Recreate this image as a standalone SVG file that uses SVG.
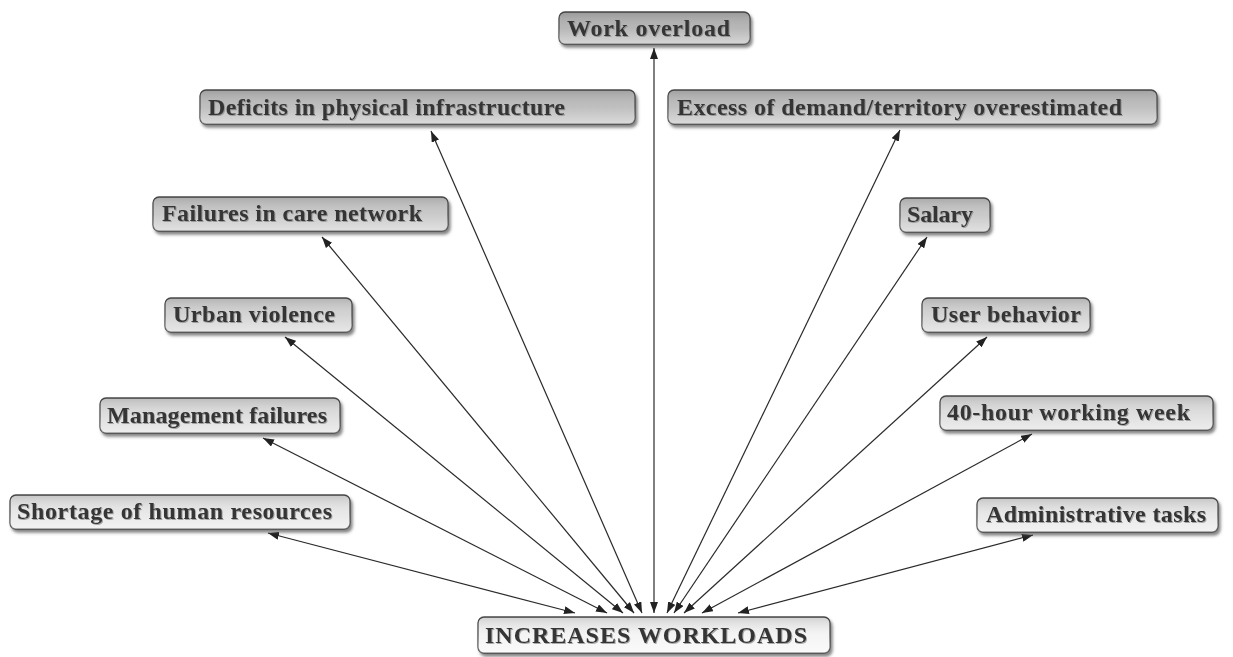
<svg xmlns="http://www.w3.org/2000/svg" width="1233" height="657" viewBox="0 0 1233 657">
<style>
.box{fill:url(#bg);stroke:#4a4a4a;stroke-width:1.3}
.ov{fill:url(#sh);stroke:none}
.t{font-family:"Liberation Serif","Times New Roman",serif;font-weight:bold;font-size:24px;fill:#343434;filter:url(#ts)}
.c{stroke:#2a2a2a;stroke-width:1.2;fill:none;marker-start:url(#ah);marker-end:url(#ah)}
</style>
<defs>
<linearGradient id="bg" gradientUnits="userSpaceOnUse" x1="0" y1="0" x2="0" y2="657">
<stop offset="0" stop-color="#b0b0b0"/>
<stop offset="1" stop-color="#f6f6f6"/>
</linearGradient>
<linearGradient id="sh" x1="0" y1="0" x2="0" y2="1">
<stop offset="0" stop-color="#000000" stop-opacity="0.14"/>
<stop offset="0.5" stop-color="#ffffff" stop-opacity="0.05"/>
<stop offset="1" stop-color="#ffffff" stop-opacity="0.45"/>
</linearGradient>
<filter id="ds" x="-10%" y="-30%" width="120%" height="170%">
<feDropShadow dx="2" dy="3" stdDeviation="1.5" flood-color="#444" flood-opacity="0.65"/>
</filter>
<filter id="ts" x="-5%" y="-20%" width="110%" height="150%">
<feDropShadow dx="1" dy="1" stdDeviation="0.6" flood-color="#777" flood-opacity="0.6"/>
</filter>
<marker id="ah" viewBox="0 0 11 8" refX="11" refY="4" markerWidth="11" markerHeight="8" markerUnits="userSpaceOnUse" orient="auto-start-reverse">
<path d="M0,0 L11,4 L0,8 Z" fill="#222"/>
</marker>
</defs>
<g id="connectors">
<line class="c" x1="268" y1="533" x2="575" y2="613"/>
<line class="c" x1="263" y1="438" x2="607" y2="613"/>
<line class="c" x1="285" y1="337" x2="623" y2="613"/>
<line class="c" x1="322" y1="237" x2="634" y2="613"/>
<line class="c" x1="431" y1="131" x2="642" y2="613"/>
<line class="c" x1="654" y1="48" x2="654" y2="613"/>
<line class="c" x1="900" y1="130" x2="667" y2="613"/>
<line class="c" x1="927" y1="237" x2="674" y2="613"/>
<line class="c" x1="987" y1="337" x2="684" y2="613"/>
<line class="c" x1="1032" y1="434" x2="702" y2="613"/>
<line class="c" x1="1033" y1="535" x2="738" y2="613"/>
</g>
<g id="work-overload" filter="url(#ds)"><rect class="box" x="559" y="12" width="191" height="32" rx="6"/><rect class="ov" x="559" y="12" width="191" height="32" rx="6"/><text class="t" x="567" y="36" textLength="163">Work overload</text></g>
<g id="deficits" filter="url(#ds)"><rect class="box" x="200" y="90" width="435" height="34" rx="6"/><rect class="ov" x="200" y="90" width="435" height="34" rx="6"/><text class="t" x="208" y="115" textLength="357">Deficits in physical infrastructure</text></g>
<g id="excess" filter="url(#ds)"><rect class="box" x="668" y="90" width="489" height="34" rx="6"/><rect class="ov" x="668" y="90" width="489" height="34" rx="6"/><text class="t" x="677" y="115" textLength="445">Excess of demand/territory overestimated</text></g>
<g id="failures-care" filter="url(#ds)"><rect class="box" x="153" y="197" width="295" height="34" rx="6"/><rect class="ov" x="153" y="197" width="295" height="34" rx="6"/><text class="t" x="162" y="221" textLength="260">Failures in care network</text></g>
<g id="salary" filter="url(#ds)"><rect class="box" x="900" y="198" width="90" height="34" rx="6"/><rect class="ov" x="900" y="198" width="90" height="34" rx="6"/><text class="t" x="907" y="222" textLength="66">Salary</text></g>
<g id="urban-violence" filter="url(#ds)"><rect class="box" x="165" y="298" width="187" height="34" rx="6"/><rect class="ov" x="165" y="298" width="187" height="34" rx="6"/><text class="t" x="173" y="322" textLength="162">Urban violence</text></g>
<g id="user-behavior" filter="url(#ds)"><rect class="box" x="922" y="298" width="168" height="34" rx="6"/><rect class="ov" x="922" y="298" width="168" height="34" rx="6"/><text class="t" x="931" y="322" textLength="150">User behavior</text></g>
<g id="management" filter="url(#ds)"><rect class="box" x="100" y="398" width="240" height="35" rx="6"/><rect class="ov" x="100" y="398" width="240" height="35" rx="6"/><text class="t" x="107" y="423" textLength="220">Management failures</text></g>
<g id="forty-hour" filter="url(#ds)"><rect class="box" x="940" y="396" width="273" height="34" rx="6"/><rect class="ov" x="940" y="396" width="273" height="34" rx="6"/><text class="t" x="947" y="420" textLength="243">40-hour working week</text></g>
<g id="shortage" filter="url(#ds)"><rect class="box" x="10" y="495" width="340" height="34" rx="6"/><rect class="ov" x="10" y="495" width="340" height="34" rx="6"/><text class="t" x="17" y="519" textLength="315">Shortage of human resources</text></g>
<g id="administrative" filter="url(#ds)"><rect class="box" x="977" y="498" width="241" height="34" rx="6"/><rect class="ov" x="977" y="498" width="241" height="34" rx="6"/><text class="t" x="986" y="522" textLength="220">Administrative tasks</text></g>
<g id="increases" filter="url(#ds)"><rect class="box" x="478" y="617" width="352" height="36" rx="6"/><rect class="ov" x="478" y="617" width="352" height="36" rx="6"/><text class="t" x="485" y="643" textLength="322">INCREASES WORKLOADS</text></g>
</svg>
